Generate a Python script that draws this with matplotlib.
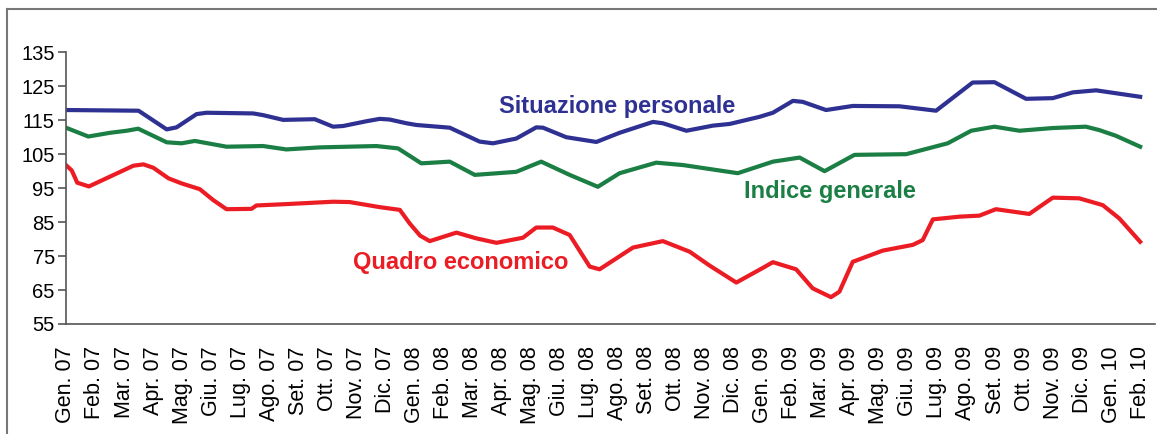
import matplotlib
matplotlib.use("Agg")
import matplotlib.pyplot as plt
from matplotlib.lines import Line2D

plt.rcParams['font.family'] = ['Liberation Sans', 'DejaVu Sans']

months = ["Gen. 07", "Feb. 07", "Mar. 07", "Apr. 07", "Mag. 07", "Giu. 07", "Lug. 07",
          "Ago. 07", "Set. 07", "Ott. 07", "Nov. 07", "Dic. 07",
          "Gen. 08", "Feb. 08", "Mar. 08", "Apr. 08", "Mag. 08", "Giu. 08", "Lug. 08",
          "Ago. 08", "Set. 08", "Ott. 08", "Nov. 08", "Dic. 08",
          "Gen. 09", "Feb. 09", "Mar. 09", "Apr. 09", "Mag. 09", "Giu. 09", "Lug. 09",
          "Ago. 09", "Set. 09", "Ott. 09", "Nov. 09", "Dic. 09", "Gen. 10", "Feb. 10"]

# survey dates (in months from Gen. 07) and index values
pers_t = [0, 2.5, 3.47, 3.81, 4.5, 4.84, 6.45, 6.79, 7.48, 8.57, 9.2, 9.55, 10.35, 10.81,
          11.15, 11.73, 12.07, 13.22, 14.25, 14.71, 15.51, 16.2, 16.43, 17.23, 18.27,
          19.07, 20.22, 20.56, 21.37, 22.28, 22.86, 23.89, 24.35, 25.04, 25.38, 26.18,
          27.1, 28.71, 29.97, 31.23, 31.98, 33.07, 33.99, 34.68, 35.48, 37]
pers_v = [118.0, 117.8, 112.3, 112.9, 116.8, 117.2, 117.0, 116.5, 115.1, 115.3, 113.1,
          113.3, 114.7, 115.4, 115.2, 114.1, 113.6, 112.8, 108.7, 108.2, 109.6, 112.9,
          112.8, 110.0, 108.6, 111.3, 114.5, 114.1, 111.9, 113.4, 113.9, 116.0, 117.2,
          120.7, 120.4, 118.0, 119.2, 119.1, 117.8, 126.1, 126.2, 121.3, 121.5, 123.2,
          123.8, 121.9]

gen_t = [0, 0.77, 1.52, 2.09, 2.49, 3.47, 3.98, 4.44, 5.53, 6.79, 7.59, 8.74, 10.69,
         11.44, 12.24, 13.22, 14.08, 15.51, 16.37, 17.35, 18.32, 19.07, 20.33, 21.25,
         23.14, 24.35, 25.27, 26.13, 27.16, 28.94, 30.37, 31.18, 31.98, 32.84, 33.99,
         35.13, 35.59, 36.17, 37]
gen_v = [112.8, 110.2, 111.3, 111.9, 112.5, 108.5, 108.2, 108.9, 107.2, 107.4, 106.4,
         107.0, 107.4, 106.7, 102.3, 102.8, 98.9, 99.8, 102.8, 98.9, 95.4, 99.4, 102.5,
         101.8, 99.4, 102.8, 104.0, 100.0, 104.8, 105.0, 108.2, 111.9, 113.1, 111.9,
         112.7, 113.1, 112.1, 110.4, 107.2]

eco_t = [0, 0.2, 0.39, 0.79, 1.52, 2.32, 2.67, 3.01, 3.53, 3.98, 4.61, 5.07, 5.53, 6.39,
         6.56, 7.59, 9.2, 9.77, 10.81, 11.5, 11.84, 12.2, 12.53, 13.45, 14.14, 14.83,
         15.74, 16.2, 16.77, 17.35, 18.04, 18.38, 19.53, 20.56, 21.48, 22.17, 23.09,
         24.0, 24.35, 25.15, 25.72, 26.35, 26.64, 27.1, 28.13, 29.17, 29.51, 29.86,
         30.77, 31.46, 32.03, 33.18, 33.99, 34.9, 35.71, 36.28, 37]
eco_v = [101.8, 100.2, 96.6, 95.5, 98.4, 101.6, 102.0, 101.0, 97.9, 96.4, 94.7, 91.5,
         88.8, 88.9, 89.9, 90.3, 91.0, 90.9, 89.4, 88.6, 84.6, 81.0, 79.4, 81.9, 80.2,
         78.9, 80.4, 83.4, 83.4, 81.2, 71.9, 71.1, 77.5, 79.4, 76.3, 72.2, 67.2, 71.5,
         73.2, 71.1, 65.5, 62.9, 64.5, 73.3, 76.6, 78.3, 79.7, 85.8, 86.6, 86.9, 88.8,
         87.4, 92.2, 92.0, 90.0, 86.1, 79.2]

blue = "#2E3192"
green = "#1B7E44"
red = "#EC1C24"

fig = plt.figure(figsize=(11.57, 4.34), dpi=100)
ax = fig.add_axes([0.057, 0.2535, 0.941, 0.626])

ax.plot(pers_t, pers_v, color=blue, lw=3, solid_joinstyle='round')
ax.plot(gen_t, gen_v, color=green, lw=3, solid_joinstyle='round')
ax.plot(eco_t, eco_v, color=red, lw=3, solid_joinstyle='round')

ax.text(19.0, 118.9, "Situazione personale", color=blue, fontsize=17,
        fontweight='bold', ha='center', va='center')
ax.text(26.33, 93.9, "Indice generale", color=green, fontsize=17,
        fontweight='bold', ha='center', va='center')
ax.text(13.6, 73.25, "Quadro economico", color=red, fontsize=17,
        fontweight='bold', ha='center', va='center')

ax.set_xlim(0, 37.5)
ax.set_ylim(55, 135)
ax.set_yticks(range(55, 136, 10))
ax.set_xticks(range(len(months)))
ax.set_xticklabels(months, rotation=90, fontsize=15.5)
ax.tick_params(axis='y', labelsize=14.5, length=6, width=1.2, color='#555555', pad=2)
ax.tick_params(axis='x', length=0, pad=16)

for s in ['top', 'right']:
    ax.spines[s].set_visible(False)
for s in ['left', 'bottom']:
    ax.spines[s].set_color('#555555')
    ax.spines[s].set_linewidth(1.2)

# outer chart frame
fig.add_artist(Line2D([7 / 1157, 1], [1 - 9 / 434, 1 - 9 / 434], color='#777777', lw=1.5))
fig.add_artist(Line2D([7 / 1157, 7 / 1157], [0, 1 - 9 / 434], color='#777777', lw=1.5))

fig.savefig("out.png", dpi=100)
